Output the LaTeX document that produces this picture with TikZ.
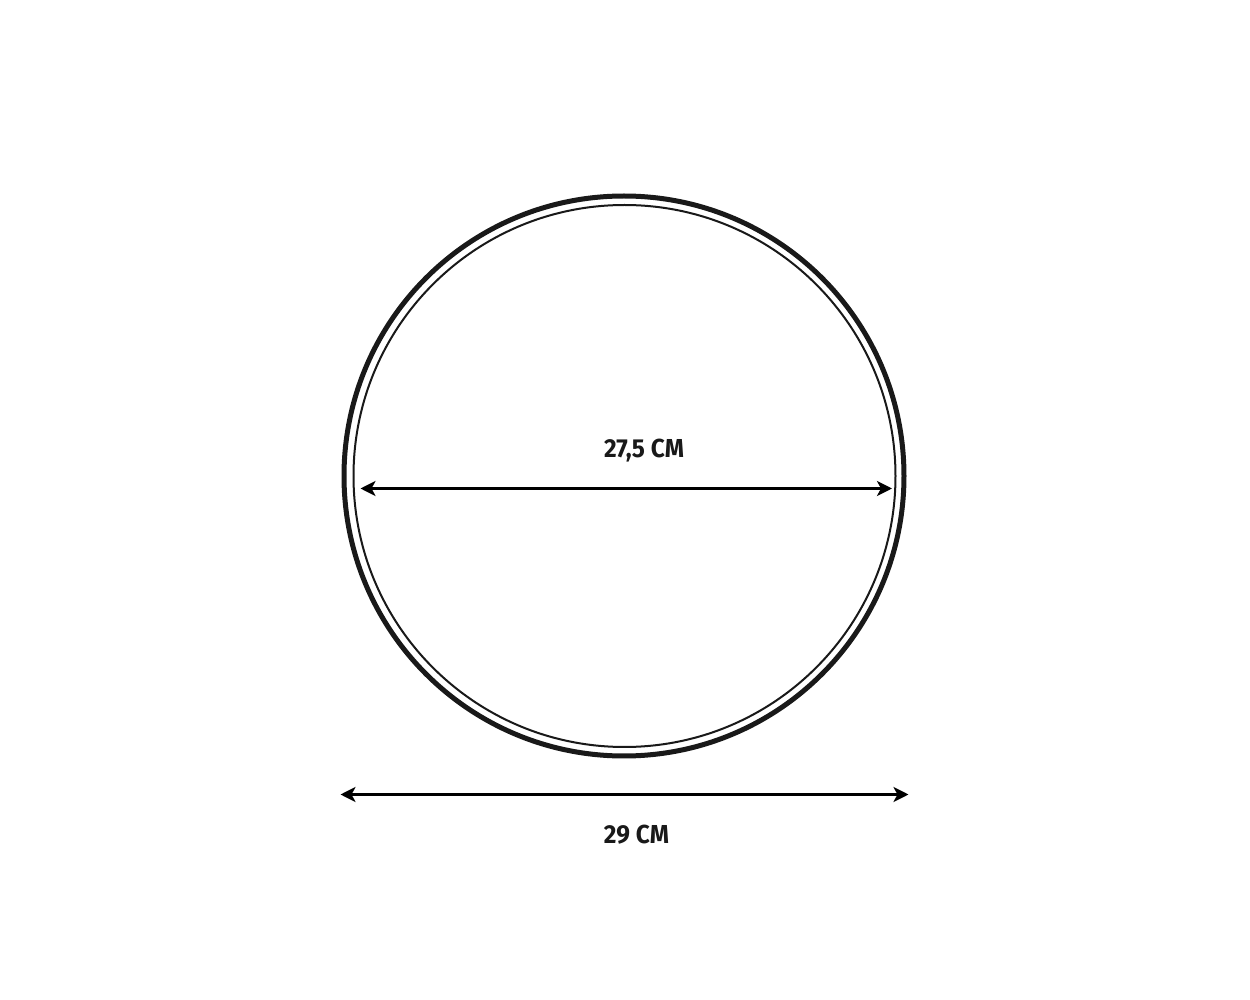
\documentclass[tikz,border=0pt]{standalone}
\usepackage{fontspec}
\setmainfont{Fira Sans}
\usetikzlibrary{arrows.meta}
\tikzset{
  dimarrow/.style={line width=1.5pt,{Stealth[length=7.5pt,width=7.5pt,inset=2pt]}-{Stealth[length=7.5pt,width=7.5pt,inset=2pt]}},
  dimlabel/.style={font=\bfseries\fontsize{13pt}{15pt}\selectfont, text=black!90, inner sep=0pt}
}
\begin{document}
\begin{tikzpicture}[x=0.5pt,y=-0.5pt]
\useasboundingbox[fill=white] (0,0) rectangle (1250,1000);
\draw[line width=2.5pt, black!90] (624,476) circle[radius=280];
\draw[line width=1pt, black!90] (624.5,476) circle[radius=271];
\coordinate (a1) at (360.5,488.5);
\coordinate (a2) at (892,488.5);
\coordinate (b1) at (340.5,794.5);
\coordinate (b2) at (908.5,794.5);
\draw[dimarrow] (a1) -- (a2);
\draw[dimarrow] (b1) -- (b2);
\node[dimlabel] (t1) at (644,451) {\scalebox{0.94}[1]{27,5 CM}};
\node[dimlabel] (t2) at (636.5,835) {\scalebox{0.94}[1]{29 CM}};
\end{tikzpicture}
\end{document}
